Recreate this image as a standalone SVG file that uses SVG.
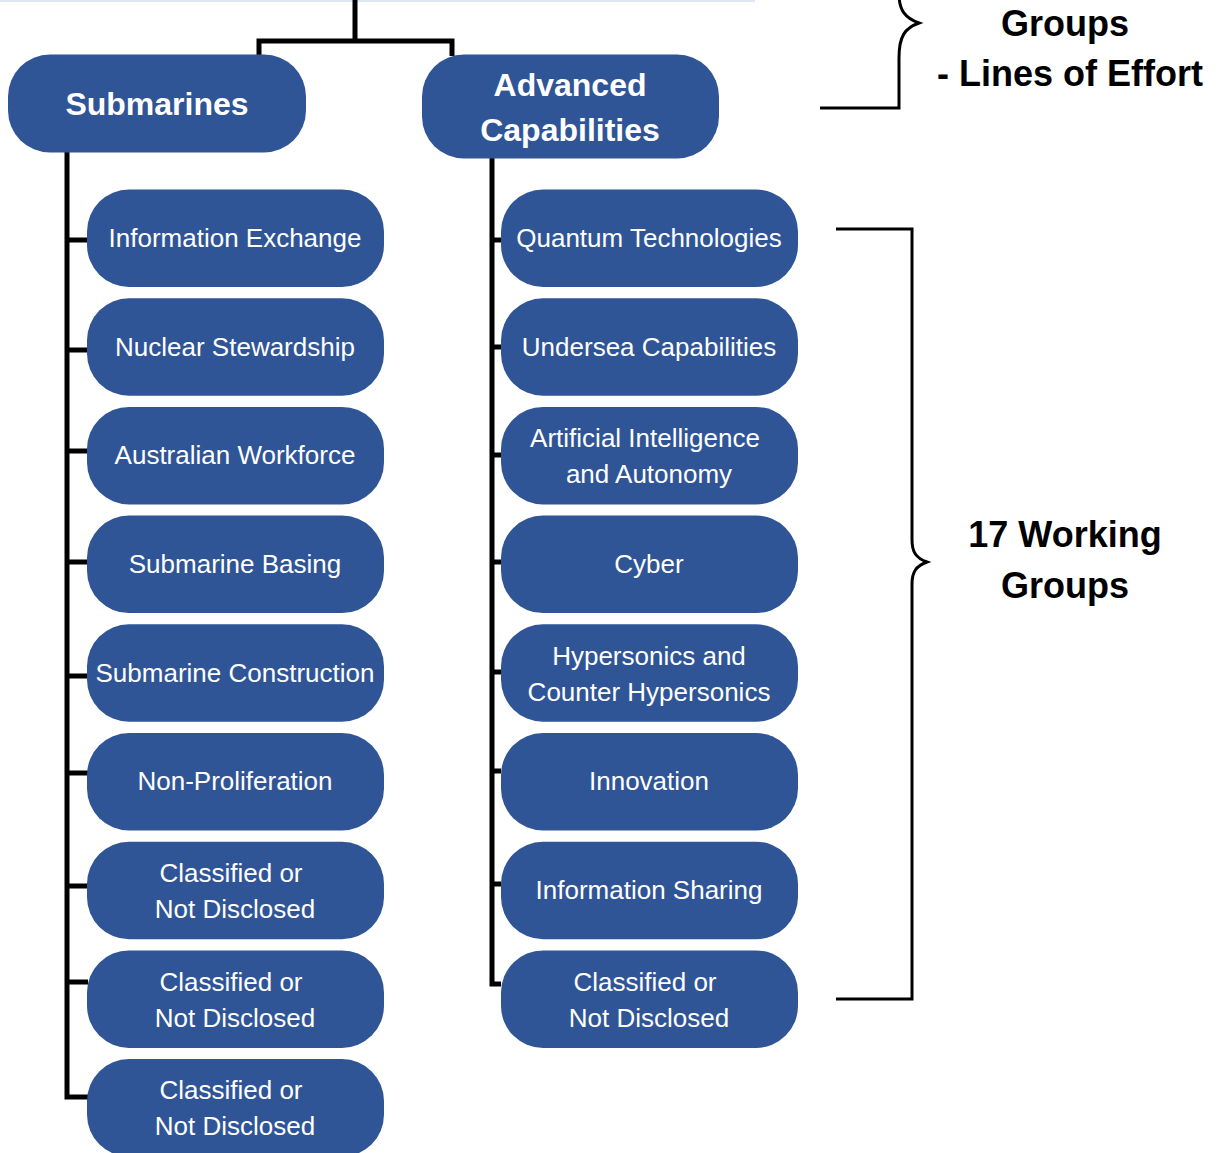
<svg xmlns="http://www.w3.org/2000/svg" width="1225" height="1153" viewBox="0 0 1225 1153">
  <style>
    .box { fill: #2f5597; }
    .head { font-family: "Liberation Sans", Arial, sans-serif; font-weight: bold; font-size: 32px; fill: #ffffff; text-anchor: middle; }
    .item { font-family: "Liberation Sans", Arial, sans-serif; font-size: 26px; fill: #ffffff; text-anchor: middle; }
    .note { font-family: "Liberation Sans", Arial, sans-serif; font-weight: bold; font-size: 36px; fill: #000000; text-anchor: middle; }
    .tree { fill: none; stroke: #000000; stroke-width: 5; stroke-linejoin: miter; }
    .brace { fill: none; stroke: #000000; stroke-width: 3; stroke-linejoin: miter; }
  </style>
  <defs>
    <rect id="itemBox" width="297" height="97.5" rx="42" ry="42" class="box"/>
  </defs>

  <rect x="0" y="0" width="1225" height="1153" fill="#ffffff"/>
  <line x1="0" y1="1" x2="755" y2="1" stroke="#dce7f2" stroke-width="2"/>

  <!-- connectors -->
  <g id="connectors">
    <path class="tree" d="M355,0 V41"/>
    <path class="tree" d="M259,56 V41 H452 V56"/>
    <path class="tree" d="M67,152 V1097 H88"/>
    <path class="tree" d="M67,240 H88 M67,350 H88 M67,451 H88 M67,562 H88 M67,676 H88 M67,773 H88 M67,886 H88 M67,982 H88"/>
    <path class="tree" d="M492,158 V984 H501"/>
    <path class="tree" d="M492,240 H501 M492,347 H501 M492,455 H501 M492,562 H501 M492,672 H501 M492,771 H501 M492,884 H501"/>
    <path class="brace" d="M820,108 H899 V58 C899,36 905,28 919,23 C905,18 899,10 899,-6"/>
    <path class="brace" d="M836,229 H912 V540 C912,552 916,558 927,562 C916,566 912,572 912,584 V999 H836"/>
  </g>

  <!-- lines of effort -->
  <g id="submarines">
    <rect x="8" y="54.5" width="298" height="98" rx="42" ry="42" class="box"/>
    <text class="head" x="157" y="115">Submarines</text>
  </g>
  <g id="advanced-capabilities">
    <rect x="422" y="54.5" width="297" height="104" rx="42" ry="42" class="box"/>
    <text class="head" x="570" y="96">Advanced</text>
    <text class="head" x="570" y="141">Capabilities</text>
  </g>

  <!-- submarine working groups -->
  <g id="information-exchange">
    <use href="#itemBox" x="87" y="189.5"/>
    <text class="item" x="235" y="247">Information Exchange</text>
  </g>
  <g id="nuclear-stewardship">
    <use href="#itemBox" x="87" y="298.2"/>
    <text class="item" x="235" y="356">Nuclear Stewardship</text>
  </g>
  <g id="australian-workforce">
    <use href="#itemBox" x="87" y="406.9"/>
    <text class="item" x="235" y="464">Australian Workforce</text>
  </g>
  <g id="submarine-basing">
    <use href="#itemBox" x="87" y="515.6"/>
    <text class="item" x="235" y="573">Submarine Basing</text>
  </g>
  <g id="submarine-construction">
    <use href="#itemBox" x="87" y="624.3"/>
    <text class="item" x="235" y="682">Submarine Construction</text>
  </g>
  <g id="non-proliferation">
    <use href="#itemBox" x="87" y="733"/>
    <text class="item" x="235" y="790">Non-Proliferation</text>
  </g>
  <g id="sub-classified-1">
    <use href="#itemBox" x="87" y="841.7"/>
    <text class="item" x="231" y="882">Classified or</text>
    <text class="item" x="235" y="918">Not Disclosed</text>
  </g>
  <g id="sub-classified-2">
    <use href="#itemBox" x="87" y="950.4"/>
    <text class="item" x="231" y="991">Classified or</text>
    <text class="item" x="235" y="1027">Not Disclosed</text>
  </g>
  <g id="sub-classified-3">
    <use href="#itemBox" x="87" y="1059.1"/>
    <text class="item" x="231" y="1099">Classified or</text>
    <text class="item" x="235" y="1135">Not Disclosed</text>
  </g>

  <!-- advanced capabilities working groups -->
  <g id="quantum-technologies">
    <use href="#itemBox" x="501" y="189.5"/>
    <text class="item" x="649" y="247">Quantum Technologies</text>
  </g>
  <g id="undersea-capabilities">
    <use href="#itemBox" x="501" y="298.2"/>
    <text class="item" x="649" y="356">Undersea Capabilities</text>
  </g>
  <g id="ai-autonomy">
    <use href="#itemBox" x="501" y="406.9"/>
    <text class="item" x="645" y="447">Artificial Intelligence</text>
    <text class="item" x="649" y="483">and Autonomy</text>
  </g>
  <g id="cyber">
    <use href="#itemBox" x="501" y="515.6"/>
    <text class="item" x="649" y="573">Cyber</text>
  </g>
  <g id="hypersonics">
    <use href="#itemBox" x="501" y="624.3"/>
    <text class="item" x="649" y="665">Hypersonics and</text>
    <text class="item" x="649" y="701">Counter Hypersonics</text>
  </g>
  <g id="innovation">
    <use href="#itemBox" x="501" y="733"/>
    <text class="item" x="649" y="790">Innovation</text>
  </g>
  <g id="information-sharing">
    <use href="#itemBox" x="501" y="841.7"/>
    <text class="item" x="649" y="899">Information Sharing</text>
  </g>
  <g id="adv-classified">
    <use href="#itemBox" x="501" y="950.4"/>
    <text class="item" x="645" y="991">Classified or</text>
    <text class="item" x="649" y="1027">Not Disclosed</text>
  </g>

  <!-- annotations -->
  <g id="label-lines-of-effort">
    <text class="note" x="1065" y="36">Groups</text>
    <text class="note" x="1070" y="86">- Lines of Effort</text>
  </g>
  <g id="label-working-groups">
    <text class="note" x="1065" y="547">17 Working</text>
    <text class="note" x="1065" y="598">Groups</text>
  </g>
</svg>
